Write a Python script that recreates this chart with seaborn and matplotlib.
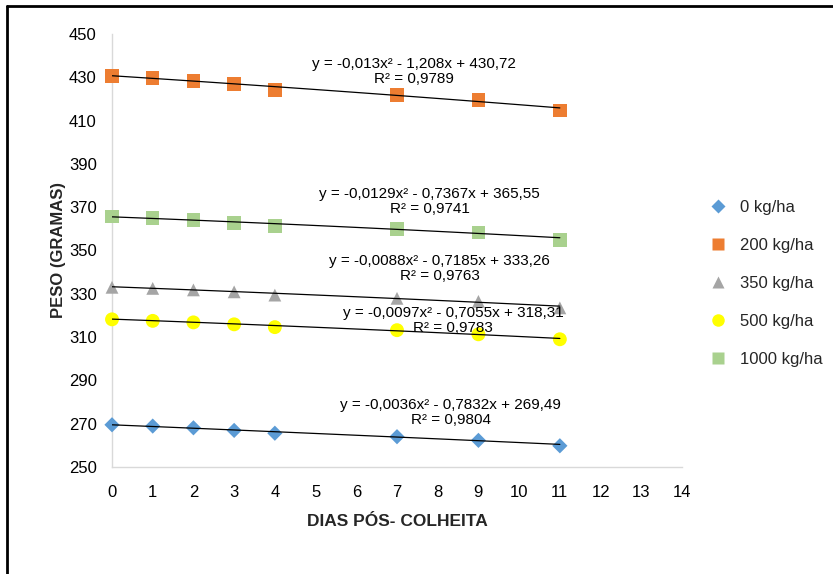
import numpy as np
import pandas as pd
import matplotlib
matplotlib.use("Agg")
import matplotlib.pyplot as plt
import seaborn as sns
from matplotlib.lines import Line2D

# data
dias = [0, 1, 2, 3, 4, 7, 9, 11]
doses = ["0 kg/ha", "200 kg/ha", "350 kg/ha", "500 kg/ha", "1000 kg/ha"]
peso_0 = [269.5, 268.9, 268.1, 266.9, 265.6, 264.0, 262.3, 259.8]
peso_200 = [430.6, 429.8, 428.4, 427.0, 424.2, 421.9, 419.5, 414.6]
peso_350 = [333.0, 332.5, 331.8, 330.9, 329.4, 327.9, 326.5, 323.5]
peso_500 = [318.2, 317.5, 316.8, 315.9, 314.6, 313.2, 311.3, 309.0]
peso_1000 = [365.6, 364.9, 364.0, 362.8, 361.2, 360.0, 358.3, 354.8]

# trendline coefficients (a, b, c) and labels shown on the chart
coef_0 = (-0.0036, -0.7832, 269.49)
coef_200 = (-0.013, -1.208, 430.72)
coef_350 = (-0.0088, -0.7185, 333.26)
coef_500 = (-0.0097, -0.7055, 318.31)
coef_1000 = (-0.0129, -0.7367, 365.55)
eq_0 = "y = -0,0036x² - 0,7832x + 269,49\nR² = 0,9804"
eq_200 = "y = -0,013x² - 1,208x + 430,72\nR² = 0,9789"
eq_350 = "y = -0,0088x² - 0,7185x + 333,26\nR² = 0,9763"
eq_500 = "y = -0,0097x² - 0,7055x + 318,31\nR² = 0,9783"
eq_1000 = "y = -0,0129x² - 0,7367x + 365,55\nR² = 0,9741"

series = [peso_0, peso_200, peso_350, peso_500, peso_1000]
coefs = [coef_0, coef_200, coef_350, coef_500, coef_1000]

df = pd.DataFrame({
    "dia": dias * len(doses),
    "peso": sum(series, []),
    "dose": [d for d in doses for _ in dias],
})

colors = ["#5B9BD5", "#ED7D31", "#A5A5A5", "#FFFF00", "#A9D18E"]
markers = ["D", "s", "^", "o", "s"]
sizes = [60, 95, 85, 100, 95]

sns.set_style("white")
plt.rcParams["font.family"] = ["Liberation Sans", "DejaVu Sans"]

fig = plt.figure(figsize=(8.33, 5.74), dpi=100)
ax = fig.add_axes([112 / 833, 107 / 574, 570 / 833, 433 / 574])

for dose, col, mk, sz in zip(doses, colors, markers, sizes):
    sub = df[df["dose"] == dose]
    sns.scatterplot(data=sub, x="dia", y="peso", color=col, marker=mk, s=sz,
                    edgecolor="none", ax=ax, zorder=3, legend=False, clip_on=False)

# trendlines from the displayed equations
xs = np.linspace(0, 11, 100)
for coef in coefs:
    ax.plot(xs, np.polyval(coef, xs), color="black", lw=0.9, zorder=4)

# equation labels (centre x, y in data units)
positions = {
    eq_200: (7.42, 432.8),
    eq_1000: (7.8, 372.8),
    eq_350: (8.05, 341.6),
    eq_500: (8.38, 317.6),
    eq_0: (8.32, 275.1),
}
for eq, (lx, ly) in positions.items():
    ax.text(lx, ly, eq, ha="center", va="center", fontsize=11, color="black",
            linespacing=1.1, zorder=5)

ax.set_xlim(0, 14)
ax.set_ylim(250, 450)
ax.set_xticks(range(0, 15))
ax.set_yticks(range(250, 451, 20))
ax.tick_params(axis="both", labelsize=12, length=0, colors="black")
ax.tick_params(axis="x", pad=13)
ax.tick_params(axis="y", pad=11)
for side in ["top", "right"]:
    ax.spines[side].set_visible(False)
for side in ["left", "bottom"]:
    ax.spines[side].set_color("#D9D9D9")
    ax.spines[side].set_linewidth(1)
ax.set_xlabel("DIAS PÓS- COLHEITA", fontsize=12.5, fontweight="bold", labelpad=10)
ax.set_ylabel("PESO (GRAMAS)", fontsize=12, fontweight="bold", labelpad=2)

handles = [Line2D([], [], linestyle="none", marker=mk, color=col, markersize=ms,
                  markeredgecolor="none")
           for col, mk, ms in zip(colors, markers, [7, 8.5, 8.5, 9, 8.5])]
fig.legend(handles, doses, loc="upper left", bbox_to_anchor=(693 / 833, 1 - 185 / 574),
           frameon=False, fontsize=12, labelspacing=1.38, handletextpad=0.75,
           handlelength=1.2)

# chart frame (only top and left edges fall inside the image)
fig.add_artist(Line2D([7 / 833, 7 / 833], [0, 1 - 6 / 574], transform=fig.transFigure,
                      color="black", lw=2))
fig.add_artist(Line2D([7 / 833, 1], [1 - 6 / 574, 1 - 6 / 574], transform=fig.transFigure,
                      color="black", lw=2))

fig.savefig("out.png", dpi=100)
plt.close(fig)
